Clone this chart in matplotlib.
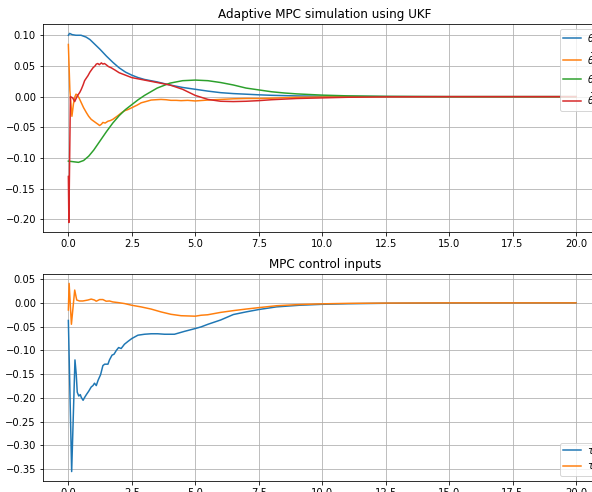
import numpy as np
import matplotlib
matplotlib.use("Agg")
import matplotlib.pyplot as plt

# joint states from the UKF run (time in s)
t_th1 = [0, 0.05, 0.15, 0.3, 0.5, 0.7, 0.85, 1.0, 1.25, 1.5, 1.75, 2.0, 2.25, 2.5, 2.75,
         3.0, 3.5, 4.0, 4.5, 5.0, 5.5, 6.0, 6.5, 7.0, 7.5, 8.0, 9.0, 10.0, 11.0, 12.5,
         15.0, 17.5, 20.0]
th1 = [0.100, 0.103, 0.101, 0.100, 0.100, 0.097, 0.093, 0.087, 0.077, 0.066, 0.056, 0.047,
       0.040, 0.035, 0.031, 0.028, 0.024, 0.019, 0.015, 0.012, 0.009, 0.0065, 0.005, 0.004,
       0.003, 0.0022, 0.0012, 0.0007, 0.0004, 0.0002, 0.0, 0.0, 0.0]

t_dth1 = [0, 0.02, 0.06, 0.14, 0.2, 0.25, 0.3, 0.35, 0.42, 0.51, 0.6, 0.71, 0.8, 0.9, 1.0,
          1.1, 1.17, 1.23, 1.3, 1.36, 1.45, 1.56, 1.65, 1.75, 1.85, 1.95, 2.1, 2.21, 2.35,
          2.5, 2.7, 2.87, 3.05, 3.26, 3.45, 3.65, 3.85, 4.04, 4.25, 4.44, 4.7, 5.0, 5.5,
          6.0, 6.5, 7.0, 7.5, 8.0, 9.0, 10.0, 11.0, 12.5, 15, 20]
dth1 = [0.085, 0.06, 0.01, -0.032, -0.012, -0.001, 0.004, 0.003, -0.002, -0.010, -0.018,
        -0.026, -0.032, -0.037, -0.040, -0.043, -0.045, -0.047, -0.045, -0.042, -0.043,
        -0.040, -0.039, -0.037, -0.034, -0.031, -0.026, -0.023, -0.021, -0.018, -0.014,
        -0.010, -0.008, -0.0055, -0.005, -0.0045, -0.005, -0.006, -0.006, -0.0065, -0.006,
        -0.007, -0.0055, -0.0045, -0.0035, -0.003, -0.003, -0.0025, -0.001, -0.0006,
        -0.0003, 0.0, 0.0, 0.0]

t_th2 = [0, 0.2, 0.4, 0.6, 0.8, 1.0, 1.25, 1.5, 1.75, 2.0, 2.25, 2.5, 2.75, 3.0, 3.25, 3.5,
         3.75, 4.0, 4.5, 5.0, 5.5, 6.0, 6.5, 7.0, 7.5, 8.0, 8.5, 9.0, 10.0, 11.0, 12.5, 15, 20]
th2 = [-0.105, -0.106, -0.107, -0.104, -0.097, -0.087, -0.072, -0.057, -0.043, -0.031,
       -0.021, -0.013, -0.005, 0.002, 0.008, 0.014, 0.018, 0.022, 0.026, 0.027, 0.026, 0.023,
       0.019, 0.014, 0.011, 0.008, 0.006, 0.0045, 0.0025, 0.0013, 0.0004, 0.0, 0.0]

t_dth2 = [0, 0.02, 0.08, 0.17, 0.25, 0.35, 0.45, 0.51, 0.58, 0.64, 0.72, 0.77, 0.85, 0.97,
          1.05, 1.1, 1.16, 1.22, 1.3, 1.36, 1.42, 1.49, 1.58, 1.69, 1.85, 2.0, 2.25, 2.5,
          3.0, 3.5, 4.0, 4.5, 5.0, 5.5, 6.0, 6.5, 7.0, 7.5, 8.0, 9.0, 10.0, 11.0, 12.5, 15, 20]
dth2 = [-0.13, -0.205, 0.0, -0.002, -0.008, 0.001, 0.007, 0.012, 0.019, 0.026, 0.031, 0.034,
        0.040, 0.047, 0.050, 0.053, 0.054, 0.052, 0.055, 0.053, 0.054, 0.052, 0.049, 0.047,
        0.043, 0.039, 0.035, 0.031, 0.027, 0.023, 0.019, 0.012, 0.002, -0.0045, -0.0075,
        -0.008, -0.0075, -0.0065, -0.005, -0.003, -0.002, -0.001, -0.0003, 0.0, 0.0]

# control torques
t_tau1 = [0, 0.13, 0.26, 0.31, 0.35, 0.41, 0.47, 0.51, 0.58, 0.64, 0.71, 0.8, 0.9, 0.97,
          1.03, 1.1, 1.17, 1.27, 1.36, 1.43, 1.56, 1.62, 1.72, 1.8, 1.89, 1.98, 2.08, 2.21,
          2.35, 2.5, 2.74, 3.0, 3.26, 3.52, 3.79, 4.18, 4.57, 5.0, 5.23, 5.5, 6.0, 6.5, 7.0,
          7.5, 8.2, 9.1, 10, 11, 12.5, 15, 17.5, 20]
tau1 = [-0.037, -0.355, -0.120, -0.150, -0.188, -0.196, -0.193, -0.199, -0.205, -0.199,
        -0.193, -0.186, -0.177, -0.174, -0.169, -0.174, -0.163, -0.151, -0.132, -0.129,
        -0.129, -0.120, -0.110, -0.108, -0.100, -0.094, -0.096, -0.087, -0.081, -0.075,
        -0.068, -0.066, -0.065, -0.065, -0.066, -0.066, -0.060, -0.054, -0.0505, -0.045,
        -0.036, -0.0245, -0.019, -0.014, -0.0084, -0.005, -0.003, -0.0018, -0.0008,
        -0.0002, 0.0, 0.0]

t_tau2 = [0, 0.03, 0.12, 0.25, 0.33, 0.44, 0.57, 0.77, 0.9, 1.03, 1.1, 1.23, 1.36, 1.49,
          1.62, 1.75, 1.95, 2.21, 2.5, 2.87, 3.26, 3.65, 4.04, 4.44, 5.0, 5.23, 5.49, 6.0,
          6.54, 7.0, 7.5, 8.2, 9.1, 10, 11, 12.5, 15, 20]
tau2 = [-0.015, 0.041, -0.045, 0.027, 0.006, 0.004, 0.004, 0.006, 0.008, 0.006, 0.0035,
        0.007, 0.007, 0.0035, 0.004, 0.002, 0.0007, -0.0014, -0.005, -0.0085, -0.013,
        -0.019, -0.024, -0.027, -0.028, -0.026, -0.025, -0.020, -0.016, -0.013, -0.010,
        -0.006, -0.0035, -0.002, -0.001, -0.0004, 0.0, 0.0]

fig = plt.figure(figsize=(592 / 72, 492 / 72), dpi=72)
# axes run a little past the right edge of the canvas
ax1 = fig.add_axes([0.0726, 0.5285, 0.9527, 0.4228])
ax2 = fig.add_axes([0.0726, 0.0224, 0.9527, 0.4207])

leg_kw = dict(handlelength=1.8, borderpad=0.3, handletextpad=0.6)

ax1.plot(t_th1, th1, label=r'$\theta_1$')
ax1.plot(t_dth1, dth1, label=r'$\dot{\theta}_1$')
ax1.plot(t_th2, th2, label=r'$\theta_2$')
ax1.plot(t_dth2, dth2, label=r'$\dot{\theta}_2$')
ax1.set_title('Adaptive MPC simulation using UKF')
ax1.set_xlim(-1, 21.22)
ax1.grid(True)
ax1.legend(loc='upper right', **leg_kw)

ax2.plot(t_tau1, tau1, label=r'$\tau_1$')
ax2.plot(t_tau2, tau2, label=r'$\tau_2$')
ax2.set_title('MPC control inputs')
ax2.set_xlim(-1, 21.22)
ax2.grid(True)
ax2.legend(loc='lower right', labelspacing=0.35, **leg_kw)

fig.savefig('out.png', dpi=72)
